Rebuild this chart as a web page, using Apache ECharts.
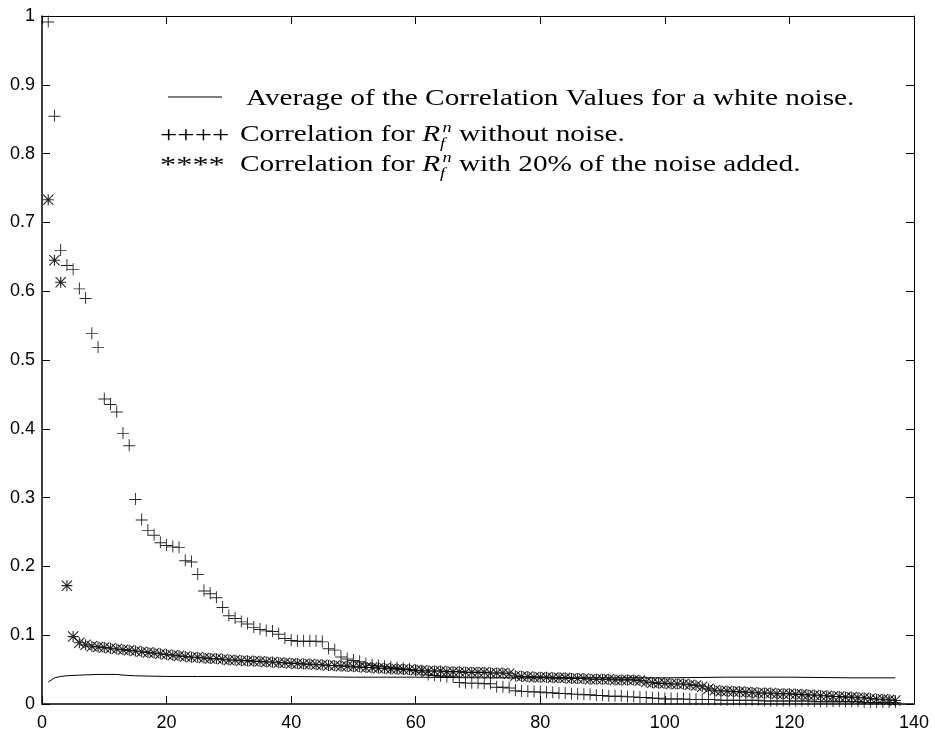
<!DOCTYPE html>
<html>
<head>
<meta charset="utf-8">
<script src="https://cdn.jsdelivr.net/npm/echarts@6/dist/echarts.min.js"></script>
<style>
html, body { margin: 0; padding: 0; background: #fff; }
#chart { width: 935px; height: 732px; }
</style>
</head>
<body>
<div id="chart"></div>
<script>
//相关值，无噪声 (+)
var noNoise = [
    0.992, 0.855, 0.660, 0.638, 0.632, 0.604, 0.590, 0.539, 0.519, 0.444,
    0.436, 0.425, 0.394, 0.376, 0.298, 0.268, 0.253, 0.246, 0.235, 0.231,
    0.229, 0.228, 0.209, 0.207, 0.189, 0.165, 0.161, 0.155, 0.141, 0.129,
    0.125, 0.120, 0.117, 0.112, 0.109, 0.107, 0.106, 0.102, 0.096, 0.093,
    0.092, 0.092, 0.092, 0.092, 0.091, 0.081, 0.079, 0.069, 0.066, 0.064,
    0.062, 0.059, 0.057, 0.056, 0.055, 0.054, 0.053, 0.052, 0.051, 0.049,
    0.047, 0.043, 0.042, 0.041, 0.040, 0.040, 0.032, 0.031, 0.031, 0.031,
    0.030, 0.030, 0.025, 0.025, 0.024, 0.020, 0.019, 0.019, 0.018, 0.018,
    0.017, 0.017, 0.016, 0.016, 0.015, 0.015, 0.014, 0.014, 0.013, 0.013,
    0.012, 0.012, 0.012, 0.011, 0.011, 0.010, 0.010, 0.009, 0.009, 0.008,
    0.008, 0.008, 0.008, 0.007, 0.007, 0.007, 0.007, 0.007, 0.006, 0.006,
    0.006, 0.006, 0.006, 0.006, 0.006, 0.005, 0.005, 0.005, 0.005, 0.005,
    0.005, 0.005, 0.005, 0.004, 0.004, 0.004, 0.004, 0.004, 0.004, 0.004,
    0.004, 0.003, 0.003, 0.003, 0.003, 0.003, 0.003
];
//相关值，加 20% 噪声 (*)
var withNoise = [
    0.733, 0.645, 0.613, 0.172, 0.098, 0.089, 0.086, 0.084, 0.083, 0.082,
    0.081, 0.080, 0.079, 0.078, 0.077, 0.076, 0.075, 0.074, 0.073, 0.072,
    0.071, 0.070, 0.069, 0.068, 0.068, 0.067, 0.066, 0.066, 0.065, 0.064,
    0.064, 0.063, 0.063, 0.062, 0.062, 0.061, 0.061, 0.060, 0.060, 0.059,
    0.059, 0.058, 0.058, 0.057, 0.057, 0.056, 0.056, 0.055, 0.055, 0.054,
    0.054, 0.053, 0.053, 0.052, 0.052, 0.051, 0.051, 0.050, 0.050, 0.049,
    0.049, 0.048, 0.048, 0.048, 0.047, 0.047, 0.047, 0.046, 0.046, 0.046,
    0.046, 0.045, 0.045, 0.045, 0.044, 0.041, 0.040, 0.040, 0.039, 0.039,
    0.039, 0.038, 0.038, 0.038, 0.037, 0.037, 0.037, 0.036, 0.036, 0.036,
    0.036, 0.035, 0.035, 0.035, 0.035, 0.034, 0.032, 0.031, 0.030, 0.030,
    0.029, 0.029, 0.029, 0.028, 0.027, 0.025, 0.022, 0.020, 0.019, 0.019,
    0.018, 0.018, 0.017, 0.017, 0.016, 0.016, 0.016, 0.015, 0.015, 0.015,
    0.014, 0.014, 0.013, 0.013, 0.012, 0.012, 0.011, 0.011, 0.010, 0.010,
    0.009, 0.009, 0.008, 0.007, 0.007, 0.006, 0.005
];
//白噪声相关平均值 (实线)
var whiteX = [1, 2, 3, 4, 6, 9, 12, 13, 15, 20, 25, 30, 40, 50, 60, 70, 80, 90, 100, 110, 120, 130, 137];
var whiteY = [0.032, 0.038, 0.040, 0.041, 0.042, 0.043, 0.043, 0.042, 0.041, 0.040, 0.040, 0.040, 0.040,
    0.039, 0.039, 0.038, 0.038, 0.038, 0.038, 0.039, 0.039, 0.038, 0.038];

//图例文字
var legendRows = [
    'Average of the Correlation Values for a white noise.',
    ['Correlation for ', ' without noise.'],
    ['Correlation for ', ' with 20% of the noise added.']
];

function toPairs(arr) {
    return arr.map(function (v, i) { return [i + 1, v]; });
}

var serifFont = '"Liberation Serif", "Times New Roman", serif';
var measureCtx = document.createElement('canvas').getContext('2d');
function textWidth(font, text) {
    measureCtx.font = font;
    return measureCtx.measureText(text).width;
}
//一行图例：按片段依次排列，支持上下标
function legendRow(x, y, sx, segs) {
    var children = [];
    var cx = 0;
    segs.forEach(function (s) {
        var font = (s.italic ? 'italic ' : '') + s.size + 'px ' + serifFont;
        children.push({
            type: 'text',
            x: cx + (s.dx || 0),
            y: s.dy || 0,
            style: { text: s.text, font: font, fill: '#000', verticalAlign: 'middle', align: 'left' }
        });
        if (!s.stay) cx += textWidth(font, s.text) + (s.dx || 0);
    });
    return { type: 'group', x: x, y: y, scaleX: sx, children: children };
}
function rfSegs(parts) {
    return [
        { text: parts[0], size: 24 },
        { text: 'R', size: 24, italic: true },
        { text: 'f', size: 15, italic: true, dy: 9, dx: 0, stay: true },
        { text: 'n', size: 15, italic: true, dy: -7, dx: 2 },
        { text: parts[1], size: 24 }
    ];
}

var chart = echarts.init(document.getElementById('chart'));
var axisFont = { color: '#000', fontSize: 18, fontFamily: '"Liberation Sans", Arial, sans-serif' };
var xBase = {
    type: 'value', min: 0, max: 140, interval: 20,
    splitLine: { show: false },
    axisTick: { inside: true, length: 8, lineStyle: { color: '#000', width: 1 } }
};
var yBase = {
    type: 'value', min: 0, max: 1, interval: 0.1,
    splitLine: { show: false },
    axisTick: { inside: true, length: 8, lineStyle: { color: '#000', width: 1 } }
};
var sx = 1.22;
var option = {
    animation: false,
    backgroundColor: '#fff',
    grid: { left: 42, right: 21, top: 16, bottom: 28 },
    xAxis: [
        Object.assign({}, xBase, {
            position: 'bottom',
            axisLine: { onZero: false, lineStyle: { color: '#000', width: 1.5 } },
            axisLabel: Object.assign({ margin: 10 }, axisFont)
        }),
        Object.assign({}, xBase, {
            position: 'top',
            axisLine: { onZero: false, lineStyle: { color: '#000', width: 1 } },
            axisLabel: { show: false }
        })
    ],
    yAxis: [
        Object.assign({}, yBase, {
            position: 'left',
            axisLine: { onZero: false, lineStyle: { color: '#000', width: 1.5 } },
            axisLabel: Object.assign({ margin: 7 }, axisFont)
        }),
        Object.assign({}, yBase, {
            position: 'right',
            axisLine: { onZero: false, lineStyle: { color: '#000', width: 1 } },
            axisLabel: { show: false }
        })
    ],
    series: [
        {
            name: 'white',
            type: 'line',
            data: whiteX.map(function (x, i) { return [x, whiteY[i]]; }),
            showSymbol: false,
            lineStyle: { color: '#000', width: 1 },
            z: 1
        },
        {
            name: 'noNoise',
            type: 'scatter',
            data: toPairs(noNoise),
            symbol: 'path://M0,6.5H13V7.5H0Z M6,0H7V13H6Z',
            symbolSize: 12,
            itemStyle: { color: '#000', opacity: 0.85 },
            z: 2
        },
        {
            name: 'withNoise',
            type: 'scatter',
            data: toPairs(withNoise),
            symbol: 'path://M4.5,0H5.5V10H4.5Z M0,4.5H10V5.5H0Z M0.7,0L10,9.3L9.3,10L0,0.7Z M9.3,0L10,0.7L0.7,10L0,9.3Z',
            symbolSize: 11,
            itemStyle: { color: '#000', opacity: 0.85 },
            z: 3
        }
    ],
    graphic: [
        { type: 'line', shape: { x1: 168, y1: 97, x2: 222, y2: 97 }, style: { stroke: '#000', lineWidth: 1 } },
        legendRow(246, 99, sx, [{ text: legendRows[0], size: 24 }]),
        legendRow(160, 136, 1.28, [{ text: '++++', size: 24 }]),
        legendRow(240, 135, sx, rfSegs(legendRows[1])),
        legendRow(160, 166, 1.35, [{ text: '****', size: 24 }]),
        legendRow(240, 165, sx, rfSegs(legendRows[2]))
    ]
};
chart.setOption(option);
</script>
</body>
</html>
